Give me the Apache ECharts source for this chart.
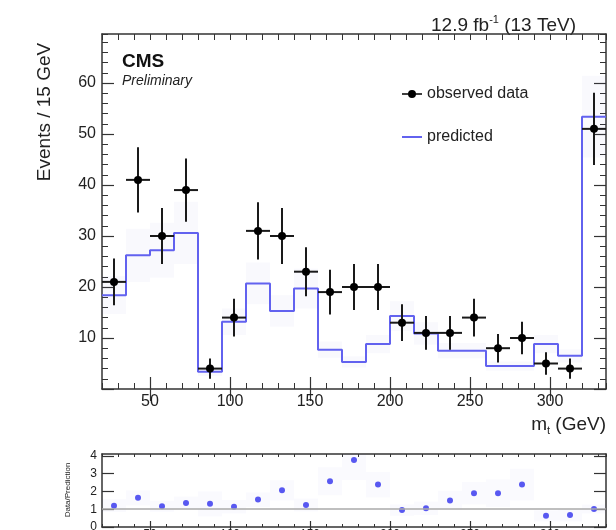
<!DOCTYPE html>
<html>
<head>
<meta charset="utf-8">
<script src="https://cdn.jsdelivr.net/npm/echarts@6/dist/echarts.min.js"></script>
<style>
  html, body { margin: 0; padding: 0; background: #fff; }
  #chart { width: 616px; height: 530px; }
</style>
</head>
<body>
<div id="chart"></div>
<script>
// Bin edges of the 15 GeV histogram bins
const binEdges = [20, 35, 50, 65, 80, 95, 110, 125, 140, 155, 170, 185, 200, 215, 230, 245, 260, 275, 290, 305, 320, 335];
// Observed events per bin and their uncertainties
const observed = [21, 41, 30, 39, 4, 14, 31, 30, 23, 19, 20, 20, 13, 11, 11, 14, 8, 10, 5, 4, 51];
const observedErr = [4.6, 6.4, 5.5, 6.2, 2.0, 3.7, 5.6, 5.5, 4.8, 4.4, 4.5, 4.5, 3.6, 3.3, 3.3, 3.7, 2.8, 3.2, 2.2, 2.0, 7.1];
// Predicted events per bin and the prediction uncertainty
const predicted = [18.4, 26.2, 27.2, 30.6, 3.4, 13.2, 20.7, 15.3, 19.7, 7.7, 5.3, 8.8, 14.3, 10.9, 7.5, 7.5, 4.5, 4.5, 8.8, 6.5, 53.4];
const predictedErr = [3.7, 5.2, 5.4, 6.1, 0.8, 2.6, 4.1, 3.1, 3.9, 1.6, 1.1, 1.8, 2.9, 2.2, 1.5, 1.5, 0.9, 0.9, 1.8, 1.3, 8.0];
// Data / prediction ratio per bin and its uncertainty
const ratio = [1.2, 1.64, 1.16, 1.35, 1.3, 1.14, 1.54, 2.06, 1.24, 2.57, 3.77, 2.38, 0.95, 1.05, 1.49, 1.9, 1.9, 2.38, 0.63, 0.67, 1.01];
const ratioErr = [0.36, 0.42, 0.31, 0.35, 0.7, 0.38, 0.41, 0.56, 0.36, 0.78, 1.13, 0.71, 0.32, 0.38, 0.54, 0.63, 0.77, 0.89, 0.31, 0.36, 0.25];
// Tick labels
const xTickLabels = [50, 100, 150, 200, 250, 300];
const yTickLabels = [10, 20, 30, 40, 50, 60];
const ratioTickLabels = [0, 1, 2, 3, 4];

const FONT = '"Liberation Sans", Arial, Helvetica, sans-serif';
const INK = '#222';
const FRAME = '#333';
const X_MIN = binEdges[0], X_MAX = binEdges[binEdges.length - 1];

const chart = echarts.init(document.getElementById('chart'), null, { renderer: 'canvas' });

// Build a set of overlapping axes for one pad: minor + major ticks on each side
function padXAxes(grid, opt) {
  const base = { type: 'value', gridIndex: grid, min: X_MIN, max: X_MAX, splitLine: { show: false } };
  const noLine = { show: false };
  return [
    Object.assign({}, base, { position: 'bottom', interval: 10,
      axisLine: { show: true, onZero: false, lineStyle: { color: FRAME, width: 1.5 } },
      axisTick: { show: true, inside: true, length: opt.minor, lineStyle: { color: FRAME, width: 1 } },
      axisLabel: { show: false } }),
    Object.assign({}, base, { position: 'bottom',
      axisLine: noLine,
      axisTick: { show: true, inside: true, length: opt.major, customValues: xTickLabels, lineStyle: { color: FRAME, width: 1.2 } },
      axisLabel: { show: true, customValues: xTickLabels, color: INK, fontFamily: FONT, fontSize: opt.font, margin: opt.margin } }),
    Object.assign({}, base, { position: 'top', interval: 10,
      axisLine: { show: true, onZero: false, lineStyle: { color: FRAME, width: 1.5 } },
      axisTick: { show: true, inside: true, length: opt.minor, lineStyle: { color: FRAME, width: 1 } },
      axisLabel: { show: false } }),
    Object.assign({}, base, { position: 'top',
      axisLine: noLine,
      axisTick: { show: true, inside: true, length: opt.major, customValues: xTickLabels, lineStyle: { color: FRAME, width: 1.2 } },
      axisLabel: { show: false } })
  ];
}

function padYAxes(grid, opt) {
  const base = { type: 'value', gridIndex: grid, min: opt.min, max: opt.max, splitLine: { show: false } };
  const axes = [];
  ['left', 'right'].forEach(function (side) {
    if (opt.minorInterval) {
      axes.push(Object.assign({}, base, { position: side, interval: opt.minorInterval,
        axisLine: { show: false },
        axisTick: { show: true, inside: true, length: opt.minor, lineStyle: { color: FRAME, width: 1 } },
        axisLabel: { show: false } }));
    }
    axes.push(Object.assign({}, base, { position: side,
      axisLine: { show: true, onZero: false, lineStyle: { color: FRAME, width: 1.5 } },
      axisTick: { show: true, inside: true, length: opt.major, customValues: opt.majorTicks, lineStyle: { color: FRAME, width: 1.2 } },
      axisLabel: side === 'left'
        ? { show: true, customValues: opt.labels, color: INK, fontFamily: FONT, fontSize: opt.font, margin: opt.margin }
        : { show: false } }));
  });
  return axes;
}

const mainX = padXAxes(0, { minor: 6, major: 12, font: 16, margin: 5 });
const ratioX = padXAxes(1, { minor: 3, major: 6, font: 12, margin: 2 });
const mainY = padYAxes(0, { min: 0, max: 69.6, minorInterval: 2, minor: 6, major: 12,
  majorTicks: [0].concat(yTickLabels), labels: yTickLabels, font: 16, margin: 6 });
const ratioY = padYAxes(1, { min: 0, max: 4.1, minorInterval: 0, minor: 0, major: 12,
  majorTicks: ratioTickLabels, labels: ratioTickLabels, font: 12, margin: 5 });

const xAxes = mainX.concat(ratioX);          // 0-3 main, 4-7 ratio
const yAxes = mainY.concat(ratioY);          // 0-3 main, 4-5 ratio

// Per-bin rows
const centers = observed.map(function (_, i) { return (binEdges[i] + binEdges[i + 1]) / 2; });
const halfWidths = observed.map(function (_, i) { return (binEdges[i + 1] - binEdges[i]) / 2; });

const dataRows = observed.map(function (v, i) { return [centers[i], v, observedErr[i], halfWidths[i]]; });
const predBandRows = predicted.map(function (v, i) { return [binEdges[i], binEdges[i + 1], v - predictedErr[i], v + predictedErr[i]]; });
const ratioBandRows = ratio.map(function (v, i) { return [binEdges[i], binEdges[i + 1], v - ratioErr[i], v + ratioErr[i]]; });
const stepRows = binEdges.map(function (e, i) { return [e, predicted[Math.min(i, predicted.length - 1)]]; });
const ratioRows = ratio.map(function (v, i) { return [centers[i], v]; });

function bandItem(color) {
  return function (params, api) {
    const p1 = api.coord([api.value(0), api.value(3)]);
    const p2 = api.coord([api.value(1), api.value(2)]);
    return { type: 'rect', shape: { x: p1[0], y: p1[1], width: p2[0] - p1[0], height: p2[1] - p1[1] },
      style: { fill: color }, silent: true };
  };
}

function errorPoint(params, api) {
  const x = api.value(0), y = api.value(1), e = api.value(2), hw = api.value(3);
  const c = api.coord([x, y]);
  const lo = api.coord([x, y - e]);
  const hi = api.coord([x, y + e]);
  const l = api.coord([x - hw, y]);
  const r = api.coord([x + hw, y]);
  return { type: 'group', children: [
    { type: 'line', shape: { x1: c[0], y1: lo[1], x2: c[0], y2: hi[1] }, style: { stroke: '#1a1a1a', lineWidth: 2 } },
    { type: 'line', shape: { x1: l[0], y1: c[1], x2: r[0], y2: c[1] }, style: { stroke: '#1a1a1a', lineWidth: 2 } },
    { type: 'circle', shape: { cx: c[0], cy: c[1], r: 4 }, style: { fill: '#000' } }
  ] };
}

const option = {
  animation: false,
  backgroundColor: '#fff',
  grid: [
    { left: 102, top: 34, width: 504, height: 355, outerBoundsMode: 'none', containLabel: false },
    { left: 102, top: 454, width: 504, height: 73, outerBoundsMode: 'none', containLabel: false }
  ],
  xAxis: xAxes,
  yAxis: yAxes,
  legend: {
    orient: 'vertical', left: 397, top: 81, itemGap: 27, itemWidth: 20, itemHeight: 8,
    textStyle: { color: INK, fontFamily: FONT, fontSize: 16 },
    data: [
      { name: 'observed data', icon: 'path://M0,3.2H20V4.8H0Z M14,4A4,4 0 1,1 6,4A4,4 0 1,1 14,4Z' },
      { name: 'predicted', icon: 'path://M0,0L0,0ZM20,8L20,8ZM0,3H20V5H0Z' }
    ],
    selectedMode: false
  },
  graphic: [
    { type: 'text', x: 576, y: 25, style: { text: '{a|12.9 fb}{s|-1}{a| (13 TeV)}', align: 'right', verticalAlign: 'middle',
      rich: { a: { fontFamily: FONT, fontSize: 19, fill: INK, lineHeight: 21, verticalAlign: 'bottom' },
              s: { fontFamily: FONT, fontSize: 11, fill: INK, lineHeight: 12, verticalAlign: 'top' } } } },
    { type: 'text', x: 122, y: 62, style: { text: 'CMS', fontFamily: FONT, fontSize: 19, fontWeight: 'bold', fill: '#111', verticalAlign: 'middle' } },
    { type: 'text', x: 122, y: 81, style: { text: 'Preliminary', fontFamily: FONT, fontSize: 14, fontStyle: 'italic', fill: INK, verticalAlign: 'middle' } },
    { type: 'text', x: 45, y: 112, rotation: Math.PI / 2,
      style: { text: 'Events / 15 GeV', fontFamily: FONT, fontSize: 19, fill: INK, align: 'center', verticalAlign: 'middle' } },
    { type: 'text', x: 606, y: 425, style: { text: '{a|m}{b|t}{a| (GeV)}', align: 'right', verticalAlign: 'middle',
      rich: { a: { fontFamily: FONT, fontSize: 19, fill: INK, lineHeight: 22, verticalAlign: 'middle' },
              b: { fontFamily: FONT, fontSize: 11, fill: INK, lineHeight: 11, verticalAlign: 'bottom' } } } },
    { type: 'text', x: 68, y: 490, rotation: Math.PI / 2,
      style: { text: 'Data/Prediction', fontFamily: FONT, fontSize: 8, fill: INK, align: 'center', verticalAlign: 'middle' } }
  ],
  series: [
    { name: 'prediction uncertainty', type: 'custom', xAxisIndex: 0, yAxisIndex: 0, z: 1,
      renderItem: bandItem('rgba(110,110,210,0.04)'), data: predBandRows, clip: true },
    { name: 'predicted', type: 'line', xAxisIndex: 0, yAxisIndex: 0, step: 'end', symbol: 'none', z: 3,
      lineStyle: { color: '#6262ef', width: 2 }, itemStyle: { color: '#6262ef' }, data: stepRows },
    { name: 'observed data', type: 'custom', xAxisIndex: 0, yAxisIndex: 0, z: 4,
      itemStyle: { color: '#000' }, renderItem: errorPoint, data: dataRows },
    { name: 'ratio uncertainty', type: 'custom', xAxisIndex: 4, yAxisIndex: 4, z: 1,
      renderItem: bandItem('rgba(110,110,210,0.03)'), data: ratioBandRows, clip: true },
    { name: 'ratio', type: 'scatter', xAxisIndex: 4, yAxisIndex: 4, z: 4,
      symbol: 'circle', symbolSize: 6, itemStyle: { color: '#3030ee' }, data: ratioRows,
      markLine: { silent: true, symbol: 'none', label: { show: false },
        lineStyle: { color: '#aaa', width: 1.5, type: 'solid' }, data: [{ yAxis: 1 }] } }
  ]
};

chart.setOption(option);
</script>
</body>
</html>
